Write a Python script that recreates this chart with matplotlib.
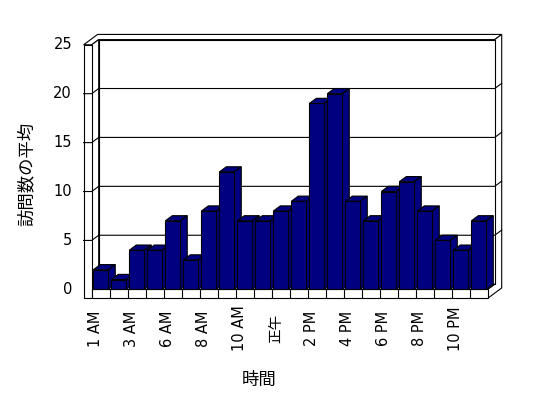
import numpy as np
import matplotlib.pyplot as plt
from matplotlib.patches import Polygon, Rectangle

plt.rcParams['font.family'] = ['DejaVu Sans', 'Noto Sans CJK JP']

# 時間ごとの訪問数の平均 (4 AM と 12 AM のデータは無し)
hours = ['1 AM', '2 AM', '3 AM', '5 AM', '6 AM', '7 AM', '8 AM', '9 AM',
         '10 AM', '11 AM', '正午', '1 PM', '2 PM', '3 PM', '4 PM', '5 PM',
         '6 PM', '7 PM', '8 PM', '9 PM', '10 PM', '11 PM']
visits = [2, 1, 4, 4, 7, 3, 8, 12, 7, 7, 8, 9, 19, 20, 9, 7, 10, 11, 8, 5, 4, 7]
yticks = [0, 5, 10, 15, 20, 25]

n = len(hours)
ymax = yticks[-1]
kx, ky = 0.389, 0.53      # 奥行き1単位あたりのずれ
wall = 0.45               # 左の壁の厚さ
floor = 0.92              # 床の厚さ
navy = '#000080'
lw = 0.8


def P(c, v, z=0.0):
    return (c + z * kx, v + z * ky)


fig = plt.figure(figsize=(5.48, 3.98), dpi=100)
ax = fig.add_axes([0, 0, 1, 1])
ax.set_xlim(-5.094, 25.35)
ax.set_ylim(-11.11, 29.58)
ax.axis('off')


def poly(pts, fc='white', z=1):
    ax.add_patch(Polygon(pts, closed=True, facecolor=fc, edgecolor='black',
                         linewidth=lw, zorder=z, joinstyle='miter'))


# 壁と床
poly([P(-wall, ymax, 0), P(0, ymax, 0), P(0, ymax, 1), P(n, ymax, 1),
      P(n, ymax, 2), P(-wall, ymax, 2)])
poly([P(n, -floor, 0), P(n, 0, 0), P(n, 0, 1), P(n, ymax, 1),
      P(n, ymax, 2), P(n, -floor, 2)])
poly([P(0, 0, 1), P(n, 0, 1), P(n, ymax, 1), P(0, ymax, 1)])
poly([P(0, 0, 0), P(0, ymax, 0), P(0, ymax, 1), P(0, 0, 1)])
poly([P(0, 0, 0), P(n, 0, 0), P(n, 0, 1), P(0, 0, 1)])
poly([P(-wall, -floor, 0), P(0, -floor, 0), P(0, ymax, 0), P(-wall, ymax, 0)])
poly([P(0, -floor, 0), P(n, -floor, 0), P(n, 0, 0), P(0, 0, 0)])

# 目盛線
for t in yticks[1:-1]:
    xs, ys = zip(P(-wall, t, 0), P(0, t, 0), P(0, t, 1), P(n, t, 1), P(n, t, 2))
    ax.plot(xs, ys, color='black', linewidth=lw, zorder=2)
for i in range(1, n):
    xs, ys = zip(P(i, -floor, 0), P(i, 0, 0))
    ax.plot(xs, ys, color='black', linewidth=lw, zorder=2)

# 棒
left = np.arange(n) + 0.09
width = 0.83
for i, h in enumerate(visits):
    zo = 3 + i * 0.01
    l, r = left[i], left[i] + width
    poly([P(l, h, 0), P(r, h, 0), P(r, h, 1), P(l, h, 1)], navy, zo)
    poly([P(r, 0, 0), P(r, h, 0), P(r, h, 1), P(r, 0, 1)], navy, zo)
    ax.add_patch(Rectangle((l, 0), width, h, facecolor=navy, edgecolor='black',
                           linewidth=lw, zorder=zo + 0.001))

# 目盛ラベル
for t in yticks:
    ax.text(-1.09, t, str(t), ha='right', va='center', fontsize=10.5)
for i in range(0, n, 2):
    ax.text(i + 0.2, -4.0, hours[i], rotation=90, ha='center', va='center',
            fontsize=10.5)

ax.text(9.29, -9.27, '時間', ha='center', va='center', fontsize=12.5)
ax.text(-3.59, 11.79, '訪問数の平均', rotation=90, ha='center', va='center',
        fontsize=12.5)

plt.savefig('out.png', format='png')
